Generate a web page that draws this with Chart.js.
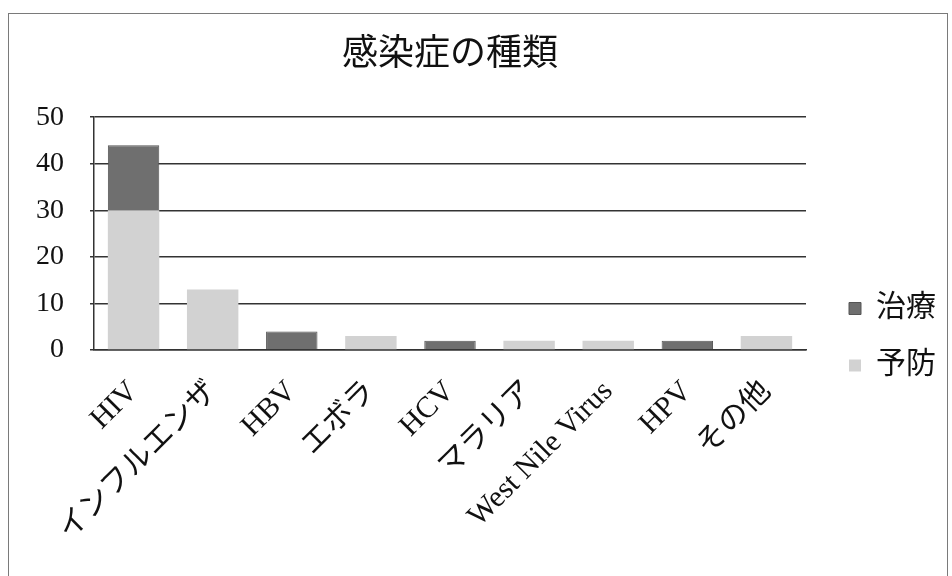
<!DOCTYPE html>
<html>
<head>
<meta charset="utf-8">
<script src="https://cdn.jsdelivr.net/npm/chart.js@4"></script>
<style>
  html, body { margin: 0; padding: 0; background: #fff; }
  #wrap { width: 952px; height: 576px; }
</style>
</head>
<body>
<div id="wrap"><canvas id="plot1" width="952" height="576"></canvas></div>
<script>
// 感染症の種類
let categorias = ["HIV", "インフルエンザ", "HBV", "エボラ", "HCV", "マラリア", "West Nile Virus", "HPV", "その他"];
let prevencion = [30, 13, 0, 3, 0, 2, 2, 0, 3];   // 予防
let tratamiento = [14, 0, 4, 0, 2, 0, 0, 2, 0];   // 治療
let yTicks = [0, 10, 20, 30, 40, 50];

let fuente = "'Liberation Serif', 'DejaVu Serif', 'Noto Sans CJK JP', serif";

// marco exterior del gráfico
let marco = {
  id: "marco",
  afterDraw: (chart) => {
    let ctx = chart.ctx;
    ctx.save();
    ctx.strokeStyle = "#7a7a7a";
    ctx.lineWidth = 1;
    ctx.strokeRect(8.5, 13.5, 939, 600);
    ctx.restore();
  }
};

let config = {
  type: "bar",
  data: {
    labels: categorias,
    datasets: [
      {
        label: "予防",
        data: prevencion,
        backgroundColor: "#d2d2d2",
        borderWidth: 0,
        stack: "s"
      },
      {
        label: "治療",
        data: tratamiento,
        backgroundColor: "#6f6f6f",
        borderColor: "#555",
        borderWidth: 1,
        stack: "s"
      }
    ]
  },
  options: {
    responsive: false,
    animation: false,
    layout: { padding: { left: 10, right: 6, top: 18, bottom: 12 } },
    datasets: { bar: { categoryPercentage: 1, barPercentage: 0.65 } },
    scales: {
      x: {
        stacked: true,
        grid: { display: false },
        border: { display: true, color: "#333", width: 1.5 },
        ticks: {
          color: "#111",
          font: { family: fuente, size: 30 },
          maxRotation: 45,
          minRotation: 45,
          autoSkip: false,
          padding: 16
        }
      },
      y: {
        stacked: true,
        min: 0,
        max: 50,
        afterBuildTicks: (axis) => { axis.ticks = yTicks.map(v => ({ value: v })); },
        grid: { color: "#333", lineWidth: 1.5, tickLength: 4 },
        border: { display: true, color: "#333", width: 1.5 },
        ticks: {
          color: "#111",
          font: { family: fuente, size: 28 },
          padding: 26
        }
      },
      // espacio entre el área del gráfico y la leyenda
      hueco: {
        position: "right",
        display: true,
        grid: { display: false },
        border: { display: false },
        ticks: { display: false },
        afterFit: (axis) => { axis.width = 16; }
      }
    },
    plugins: {
      title: {
        display: true,
        text: "感染症の種類",
        fullSize: false,
        color: "#111",
        font: { family: fuente, size: 36, weight: "normal" },
        padding: { top: 16, bottom: 40 }
      },
      legend: {
        position: "right",
        reverse: true,
        title: {
          display: true,
          text: " ",
          font: { size: 30 },
          padding: { top: 56, bottom: 0 }
        },
        labels: {
          color: "#111",
          font: { family: fuente, size: 30 },
          boxWidth: 12,
          boxHeight: 12,
          padding: 27
        }
      },
      tooltip: { enabled: false }
    }
  },
  plugins: [marco]
};

let chart1 = new Chart(document.getElementById("plot1"), config);
</script>
</body>
</html>
